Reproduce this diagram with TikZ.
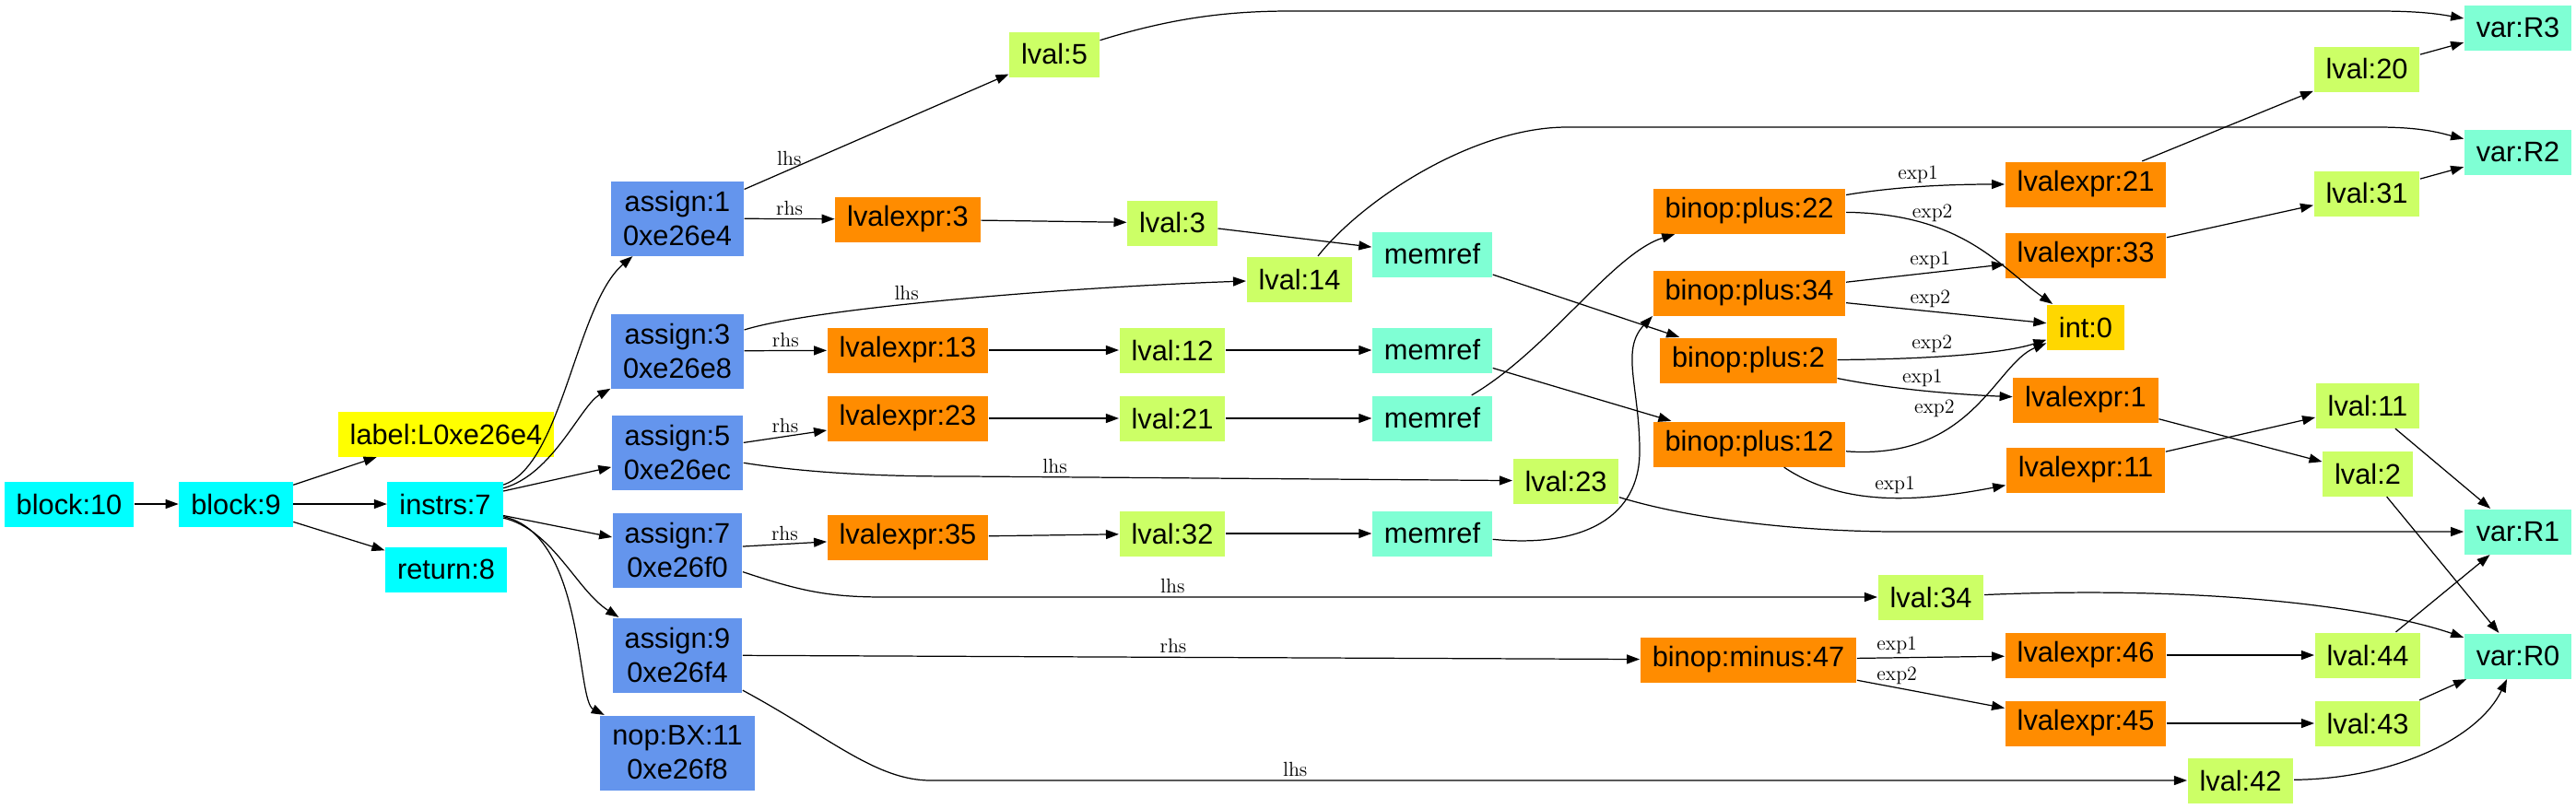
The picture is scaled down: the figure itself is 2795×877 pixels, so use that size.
\documentclass[tikz,border=0pt]{standalone}
\usepackage{fontspec}
\setsansfont{Liberation Sans}
\usepackage{xcolor}
\usetikzlibrary{arrows.meta}
\definecolor{ctrlcol}{HTML}{00FFFF}
\definecolor{labcol}{HTML}{FFFF00}
\definecolor{stmtcol}{HTML}{6495ED}
\definecolor{exprcol}{HTML}{FF8C00}
\definecolor{lvcol}{HTML}{CCFF66}
\definecolor{memcol}{HTML}{7FFFD4}
\definecolor{litcol}{HTML}{FFD700}
\tikzset{> = { Triangle[length = 2.8mm, width = 2mm] }}
\tikzset{
	box/.style = {rectangle, inner xsep = 0.26cm, inner ysep = 0pt, minimum height = 0.98cm, font = \sffamily\fontsize{17.5}{21}\selectfont},
	ctrl/.style = {box, fill = ctrlcol},
	lab/.style = {box, fill = labcol},
	stmt/.style = {box, fill = stmtcol, align = center, minimum height = 1.62cm},
	expr/.style = {box, fill = exprcol},
	lv/.style = {box, fill = lvcol},
	mem/.style = {box, fill = memcol},
	lit/.style = {box, fill = litcol},
	lbl/.style = {font = \fontsize{12.5}{14}\selectfont, inner sep = 2pt}
}
\begin{document}
\begin{tikzpicture}[x = 0.02cm, y = -0.02cm, line width = 0.7pt]
	\useasboundingbox (0, 0) rectangle (2795, 877);
	\node [ctrl] (block10) at (75, 547) {block:10};
	\node [ctrl] (block9) at (256, 547) {block:9};
	\node [lab] (lab0) at (484, 471) {label:L0xe26e4};
	\node [ctrl] (instrs) at (483, 547) {instrs:7};
	\node [ctrl] (ret) at (484, 618) {return:8};
	\node [stmt] (assign1) at (735, 237) {assign:1\\0xe26e4};
	\node [stmt] (assign3) at (735, 381) {assign:3\\0xe26e8};
	\node [stmt] (assign5) at (735, 491) {assign:5\\0xe26ec};
	\node [stmt] (assign7) at (735, 597) {assign:7\\0xe26f0};
	\node [stmt] (assign9) at (735, 711) {assign:9\\0xe26f4};
	\node [stmt] (nop) at (735, 817) {nop:BX:11\\0xe26f8};
	\node [lv] (lval5) at (1144, 59) {lval:5};
	\node [expr] (lvalexpr3) at (985, 238) {lvalexpr:3};
	\node [lv] (lval3) at (1272, 242) {lval:3};
	\node [mem] (mref1) at (1554, 276) {memref};
	\node [lv] (lval14) at (1410, 303) {lval:14};
	\node [expr] (lvalexpr13) at (985, 380) {lvalexpr:13};
	\node [lv] (lval12) at (1272, 380) {lval:12};
	\node [mem] (mref2) at (1554, 380) {memref};
	\node [expr] (lvalexpr23) at (985, 454) {lvalexpr:23};
	\node [lv] (lval21) at (1272, 454) {lval:21};
	\node [mem] (mref3) at (1554, 454) {memref};
	\node [lv] (lval23) at (1699, 522) {lval:23};
	\node [expr] (lvalexpr35) at (985, 583) {lvalexpr:35};
	\node [lv] (lval32) at (1272, 579) {lval:32};
	\node [mem] (mref4) at (1554, 579) {memref};
	\node [lv] (lval34) at (2095, 648) {lval:34};
	\node [expr] (plus22) at (1898, 229) {binop:plus:22};
	\node [expr] (plus34) at (1898, 318) {binop:plus:34};
	\node [expr] (plus2) at (1897, 391) {binop:plus:2};
	\node [expr] (plus12) at (1898, 482) {binop:plus:12};
	\node [expr] (minus47) at (1897, 716) {binop:minus:47};
	\node [expr] (lvalexpr21) at (2263, 200) {lvalexpr:21};
	\node [expr] (lvalexpr33) at (2263, 277) {lvalexpr:33};
	\node [lit] (int0) at (2263, 355) {int:0};
	\node [expr] (lvalexpr1) at (2263, 434) {lvalexpr:1};
	\node [expr] (lvalexpr11) at (2263, 510) {lvalexpr:11};
	\node [expr] (lvalexpr46) at (2263, 711) {lvalexpr:46};
	\node [expr] (lvalexpr45) at (2263, 785) {lvalexpr:45};
	\node [lv] (lval20) at (2568, 75) {lval:20};
	\node [lv] (lval31) at (2568, 210) {lval:31};
	\node [lv] (lval11) at (2569, 440) {lval:11};
	\node [lv] (lval2) at (2569, 514) {lval:2};
	\node [lv] (lval44) at (2569, 711) {lval:44};
	\node [lv] (lval43) at (2569, 785) {lval:43};
	\node [lv] (lval42) at (2431, 847) {lval:42};
	\node [mem] (varR3) at (2732, 30) {var:R3};
	\node [mem] (varR2) at (2732, 165) {var:R2};
	\node [mem] (varR1) at (2732, 577) {var:R1};
	\node [mem] (varR0) at (2732, 712) {var:R0};

	\draw [->] (block10) -- (block9);
	\draw [->] (block9) -- (lab0);
	\draw [->] (block9) -- (instrs);
	\draw [->] (block9) -- (ret);
	\draw [->] (instrs) .. controls (610, 505) and (625, 330) .. (assign1);
	\draw [->] (instrs) .. controls (600, 515) and (630, 440) .. (assign3);
	\draw [->] (instrs) -- (assign5);
	\draw [->] (instrs) -- (assign7);
	\draw [->] (instrs) .. controls (600, 575) and (625, 640) .. (assign9);
	\draw [->] (instrs) .. controls (635, 580) and (625, 760) .. (nop);

	\draw [->] (assign1) -- node[lbl, pos = 0.17, above]{lhs} (lval5);
	\draw [->] (assign1) -- node[lbl, above]{rhs} (lvalexpr3);
	\draw [->] (lvalexpr3) -- (lval3);
	\draw [->] (lval3) -- (mref1);
	\draw [->] (mref1) -- (plus2);
	\draw [->] (lval5) .. controls (1270, 20) and (1330, 12) .. (1400, 12) -- (2580, 12) .. controls (2630, 12) and (2650, 16) .. (varR3);
	\draw [->] (lval14) .. controls (1480, 215) and (1600, 138) .. (1700, 138) -- (2580, 138) .. controls (2630, 138) and (2650, 145) .. (varR2);

	\draw [->] (assign3) .. controls (880, 335) and (1150, 312) .. node[lbl, pos = 0.42, above]{lhs} (lval14);
	\draw [->] (assign3) -- node[lbl, above]{rhs} (lvalexpr13);
	\draw [->] (lvalexpr13) -- (lval12);
	\draw [->] (lval12) -- (mref2);
	\draw [->] (mref2) -- (plus12);

	\draw [->] (assign5) -- node[lbl, above]{rhs} (lvalexpr23);
	\draw [->] (assign5) .. controls (900, 517) and (1000, 517) .. (1050, 517) -- node[lbl, pos = 0.16, above]{lhs} (lval23);
	\draw [->] (lvalexpr23) -- (lval21);
	\draw [->] (lval21) -- (mref3);
	\draw [->] (mref3) .. controls (1680, 380) and (1750, 275) .. (plus22);

	\draw [->] (assign7) -- node[lbl, above]{rhs} (lvalexpr35);
	\draw [->] (assign7) .. controls (870, 642) and (900, 648) .. (960, 648) -- node[lbl, pos = 0.29, above]{lhs} (lval34);
	\draw [->] (lvalexpr35) -- (lval32);
	\draw [->] (lval32) -- (mref4);
	\draw [->] (mref4) .. controls (1720, 595) and (1779, 560) .. (1779, 490) .. controls (1779, 420) and (1758, 380) .. (plus34.south west);

	\draw [->] (assign9) -- node[lbl, pos = 0.48, above]{rhs} (minus47);
	\draw [->] (assign9) .. controls (900, 800) and (950, 847) .. (1010, 847) -- node[lbl, pos = 0.29, above]{lhs} (lval42);

	\draw [->] (plus22) .. controls (2060, 202) and (2120, 200) .. node[lbl, pos = 0.45, above]{exp1} (lvalexpr21);
	\draw [->] (plus22) .. controls (2130, 232) and (2170, 290) .. node[lbl, pos = 0.3, above]{exp2} (int0);
	\draw [->] (plus34) -- node[lbl, pos = 0.53, above]{exp1} (lvalexpr33);
	\draw [->] (plus34) -- node[lbl, pos = 0.42, above]{exp2} (int0);
	\draw [->] (plus2) .. controls (2080, 390) and (2170, 385) .. node[lbl, pos = 0.4, above]{exp2} (int0);
	\draw [->] (plus2) .. controls (2050, 422) and (2120, 428) .. node[lbl, pos = 0.5, above]{exp1} (lvalexpr1);
	\draw [->] (plus12) .. controls (2140, 500) and (2165, 395) .. node[lbl, pos = 0.5, left = 0.35cm]{exp2} (int0);
	\draw [->] (plus12) .. controls (2000, 550) and (2080, 545) .. node[lbl, pos = 0.55, above]{exp1} (lvalexpr11);
	\draw [->] (minus47) -- node[lbl, pos = 0.27, above]{exp1} (lvalexpr46);
	\draw [->] (minus47) -- node[lbl, pos = 0.27, above]{exp2} (lvalexpr45);

	\draw [->] (lvalexpr21) -- (lval20);
	\draw [->] (lval20) -- (varR3);
	\draw [->] (lvalexpr33) -- (lval31);
	\draw [->] (lval31) -- (varR2);
	\draw [->] (lvalexpr1) -- (lval2);
	\draw [->] (lvalexpr11) -- (lval11);
	\draw [->] (lval11) -- (varR1);
	\draw [->] (lval2) -- (varR0);
	\draw [->] (lval23) .. controls (1840, 565) and (1960, 577) .. (2060, 577) -- (varR1);
	\draw [->] (lval34) .. controls (2400, 635) and (2580, 660) .. (varR0);
	\draw [->] (lvalexpr46) -- (lval44);
	\draw [->] (lval44) -- (varR1);
	\draw [->] (lvalexpr45) -- (lval43);
	\draw [->] (lval43) -- (varR0);
	\draw [->] (lval42) .. controls (2600, 845) and (2690, 800) .. (varR0);
\end{tikzpicture}
\end{document}
